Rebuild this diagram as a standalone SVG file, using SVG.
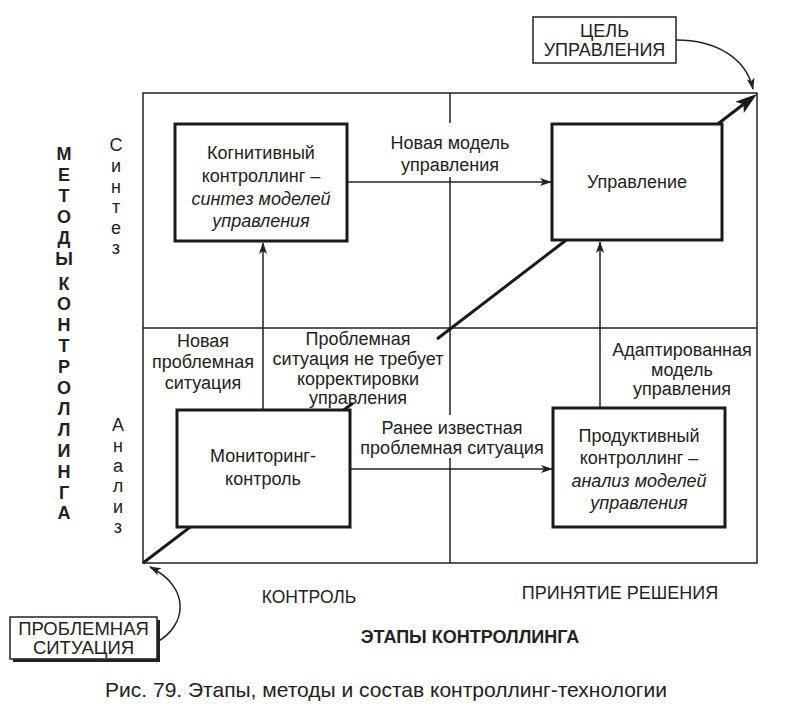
<svg xmlns="http://www.w3.org/2000/svg" width="790" height="719" viewBox="0 0 790 719">
<defs>
<style>
text{font-family:"Liberation Sans",Arial,sans-serif;fill:#222;}
.t{font-size:18px;text-anchor:middle;}
.i{font-style:italic;}
.b{font-weight:bold;}
.grid{stroke:#222;stroke-width:1.5;fill:none;}
.arr{stroke:#222;stroke-width:1.5;fill:none;marker-end:url(#ah);}
.box{fill:#fff;stroke:#1a1a1a;stroke-width:3;}
.thin{fill:#fff;stroke:#222;stroke-width:1.5;}
.diag{stroke:#1a1a1a;stroke-width:3;fill:none;}
</style>
<marker id="ah" markerWidth="14" markerHeight="10" refX="11" refY="4" orient="auto" markerUnits="userSpaceOnUse">
<path d="M0,0 L12,4 L0,8 L3,4 z" fill="#222"/>
</marker>
<marker id="big" markerWidth="26" markerHeight="16" refX="5" refY="7" orient="auto" markerUnits="userSpaceOnUse">
<path d="M0,0 L22,7 L0,14 L5,7 z" fill="#1a1a1a"/>
</marker>
</defs>
<rect width="790" height="719" fill="#fff"/>

<g id="grid">
<rect class="grid" x="143" y="93" width="614" height="470"/>
<line class="grid" x1="143" y1="328" x2="757" y2="328"/>
<line class="grid" x1="450" y1="93" x2="450" y2="123"/>
<line class="grid" x1="450" y1="177" x2="450" y2="415"/>
<line class="grid" x1="450" y1="458" x2="450" y2="563"/>
</g>

<g id="connectors">
<path class="diag" d="M143,563 L353,403"/>
<path class="diag" d="M437,339 L743.5,104.3" marker-end="url(#big)"/>
<line class="arr" x1="347" y1="182" x2="551" y2="182"/>
<line class="arr" x1="263" y1="410" x2="263" y2="243"/>
<line class="arr" x1="350" y1="469" x2="552" y2="469"/>
<line class="arr" x1="600" y1="408" x2="600" y2="242"/>
<path class="arr" d="M676,40 C716,40 746,58 753,89"/>
<path class="arr" d="M157,642 C186,626 192,588 150,567"/>
</g>

<g id="goal">
<rect class="thin" x="533" y="17" width="143" height="46"/>
<text class="t" x="604.5" y="36.5">ЦЕЛЬ</text>
<text class="t" x="604.5" y="56">УПРАВЛЕНИЯ</text>
</g>

<g id="problem">
<rect x="13" y="620" width="147" height="42" fill="#222"/>
<rect class="thin" x="10" y="617" width="147" height="42"/>
<text class="t" x="83.5" y="635" style="font-size:18.5px">ПРОБЛЕМНАЯ</text>
<text class="t" x="83.5" y="654" style="font-size:18.5px">СИТУАЦИЯ</text>
</g>

<g id="cognitive">
<rect class="box" x="175" y="124" width="172" height="117"/>
<text class="t" x="261" y="159">Когнитивный</text>
<text class="t" x="261" y="182">контроллинг –</text>
<text class="t i" x="261" y="205">синтез моделей</text>
<text class="t i" x="261" y="227">управления</text>
</g>

<g id="management">
<rect class="box" x="552" y="124" width="170" height="116"/>
<text class="t" x="637" y="188">Управление</text>
</g>

<g id="monitoring">
<rect class="box" x="177" y="410" width="173" height="117"/>
<text class="t" x="263" y="462">Мониторинг-</text>
<text class="t" x="263" y="485">контроль</text>
</g>

<g id="productive">
<rect class="box" x="553" y="408" width="172" height="119"/>
<text class="t" x="639" y="442">Продуктивный</text>
<text class="t" x="639" y="464">контроллинг –</text>
<text class="t i" x="639" y="487">анализ моделей</text>
<text class="t i" x="639" y="509">управления</text>
</g>

<g id="labels">
<text class="t" x="450" y="149">Новая модель</text>
<text class="t" x="450" y="171">управления</text>
<text class="t" x="203" y="347">Новая</text>
<text class="t" x="203" y="368">проблемная</text>
<text class="t" x="203" y="389">ситуация</text>
<text class="t" x="358" y="345">Проблемная</text>
<text class="t" x="358" y="365">ситуация не требует</text>
<text class="t" x="358" y="385">корректировки</text>
<text class="t" x="358" y="404">управления</text>
<text class="t" x="452" y="434">Ранее известная</text>
<text class="t" x="452" y="454">проблемная ситуация</text>
<text class="t" x="682" y="356">Адаптированная</text>
<text class="t" x="682" y="376">модель</text>
<text class="t" x="682" y="395">управления</text>
<text class="t" x="309" y="603" style="font-size:17.5px">КОНТРОЛЬ</text>
<text class="t" x="620" y="599">ПРИНЯТИЕ РЕШЕНИЯ</text>
<text class="t b" x="470" y="643">ЭТАПЫ КОНТРОЛЛИНГА</text>
<text class="t" x="386" y="697" style="font-size:21px">Рис. 79. Этапы, методы и состав контроллинг-технологии</text>
</g>

<g id="methods" class="t b">
<text class="t b" x="64" y="159.5">М</text>
<text class="t b" x="64" y="180.5">Е</text>
<text class="t b" x="64" y="201.5">Т</text>
<text class="t b" x="64" y="222.5">О</text>
<text class="t b" x="64" y="243.5">Д</text>
<text class="t b" x="64" y="264.5">Ы</text>
<text class="t b" x="64" y="289.5">К</text>
<text class="t b" x="64" y="310.4">О</text>
<text class="t b" x="64" y="331.3">Н</text>
<text class="t b" x="64" y="352.2">Т</text>
<text class="t b" x="64" y="373.1">Р</text>
<text class="t b" x="64" y="394">О</text>
<text class="t b" x="64" y="414.9">Л</text>
<text class="t b" x="64" y="435.8">Л</text>
<text class="t b" x="64" y="456.7">И</text>
<text class="t b" x="64" y="477.6">Н</text>
<text class="t b" x="64" y="498.5">Г</text>
<text class="t b" x="64" y="519.4">А</text>
</g>

<g id="synthesis">
<text class="t" x="116" y="151">С</text>
<text class="t" x="116" y="172">и</text>
<text class="t" x="116" y="192.5">н</text>
<text class="t" x="116" y="213">т</text>
<text class="t" x="116" y="233.5">е</text>
<text class="t" x="116" y="254">з</text>
</g>

<g id="analysis">
<text class="t" x="118" y="431">А</text>
<text class="t" x="118" y="451.5">н</text>
<text class="t" x="118" y="472">а</text>
<text class="t" x="118" y="492">л</text>
<text class="t" x="118" y="512.5">и</text>
<text class="t" x="118" y="533">з</text>
</g>
</svg>
